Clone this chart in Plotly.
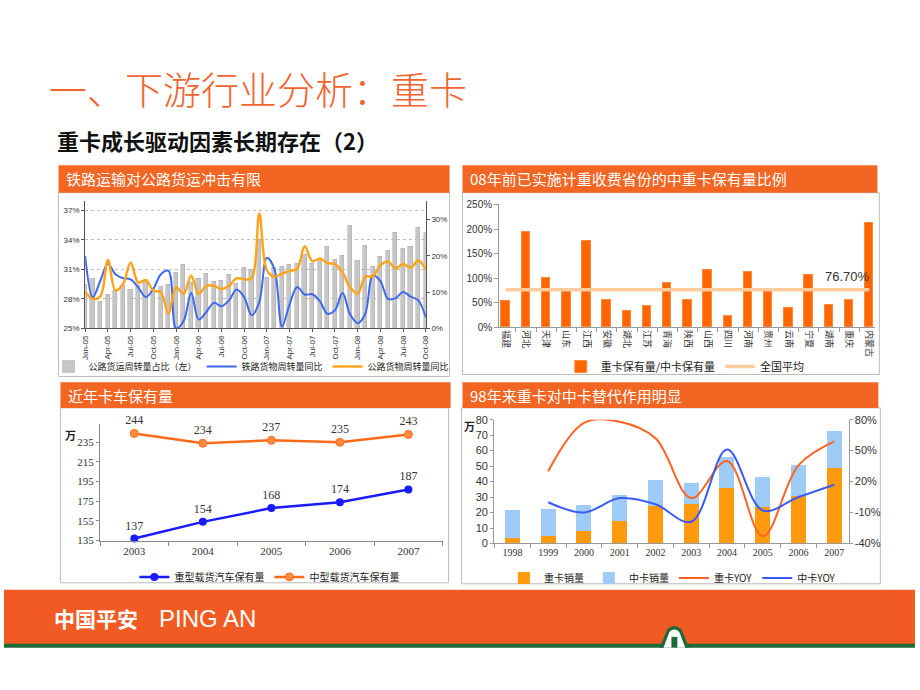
import plotly.graph_objects as go

W, H = 920, 690
def px(x): return x / W
def py(y): return 1 - y / H
def pp(x, y): return f"{x / W:.5f},{1 - y / H:.5f}"

CJK = "Noto Sans CJK SC"
SANS = "Arial, Liberation Sans, sans-serif"
SERIF = "Liberation Serif, DejaVu Serif, serif"

# ---------------- Chart 1 data ----------------
month_ticks = ["Jan-05", "Apr-05", "Jul-05", "Oct-05", "Jan-06", "Apr-06", "Jul-06", "Oct-06",
               "Jan-07", "Apr-07", "Jul-07", "Oct-07", "Jan-08", "Apr-08", "Jul-08", "Oct-08"]
road_share = [29.5, 30.1, 27.7, 28.4, 28.8, 29.3, 28.9, 29.3, 29.8, 28.8, 29.2, 29.5, 30.7, 31.5, 29.7, 30.1,
              30.6, 29.8, 29.9, 30.5, 29.6, 31.2, 31.0, 34.0, 30.2, 31.2, 31.3, 31.5, 31.6, 32.5, 31.6, 31.9,
              33.3, 32.0, 32.4, 35.5, 31.9, 33.4, 31.3, 32.3, 32.9, 34.7, 33.1, 33.3, 35.3, 34.7]
rail_yoy = [19.9, 8.6, 13.1, 17.8, 14.9, 13.8, 13.5, 11.3, 8.6, 10.8, 14.9, 15.8, 0.0, 2.0, 9.7, 2.4,
            4.5, 7.0, 6.1, 7.7, 10.7, 8.6, 3.6, 7.2, 19.4, 16.3, 0.5, 6.6, 11.4, 9.3, 9.4, 7.5,
            4.0, 5.0, 9.7, 3.8, 1.4, 4.0, 14.5, 13.0, 8.1, 8.3, 10.0, 8.7, 7.7, 3.0]
road_yoy = [10.1, 8.1, 8.8, 18.8, 10.4, 12.2, 18.1, 12.6, 13.3, 10.4, 9.9, 4.1, 11.3, 9.5, 14.5, 9.5,
            11.7, 11.7, 10.8, 11.7, 13.8, 13.5, 13.8, 31.6, 16.0, 14.2, 15.1, 15.8, 16.4, 22.6, 18.5, 19.2,
            18.0, 17.7, 15.4, 11.3, 9.6, 14.2, 14.3, 17.4, 18.4, 16.5, 17.7, 16.7, 18.7, 16.2]
left_ticks1 = [25, 28, 31, 34, 37]
right_ticks1 = [0, 10, 20, 30]

# ---------------- Chart 2 data ----------------
provinces = ["福建", "河北", "天津", "山东", "江西", "安徽", "湖北", "江苏", "青海", "陕西",
             "山西", "四川", "河南", "贵州", "云南", "宁夏", "湖南", "重庆", "内蒙古"]
heavy_mid_ratio = [52, 194, 100, 76, 174, 54, 33, 42, 90, 54, 116, 23, 112, 75, 38, 105, 44, 55, 211]
national_avg = 76.7

# ---------------- Chart 3 data ----------------
years3 = ["2003", "2004", "2005", "2006", "2007"]
heavy_stock = [137, 154, 168, 174, 187]
medium_stock = [244, 234, 237, 235, 243]

# ---------------- Chart 4 data ----------------
years4 = ["1998", "1999", "2000", "2001", "2002", "2003", "2004", "2005", "2006", "2007"]
heavy_sales = [3.5, 5.0, 8.5, 15.0, 24.3, 25.8, 36.0, 23.7, 31.1, 49.1]
medium_sales = [18.4, 17.6, 16.5, 16.7, 17.0, 13.6, 20.1, 19.3, 19.7, 23.5]
heavy_yoy = [None, 30, 77, 78, 62, 4, 40, -33, 36, 59]
medium_yoy = [None, 0, -10, 4, -2, -19, 51, -8, 5, 17]
right_ticks4 = [-40, -10, 20, 50, 80]

fig = go.Figure()

# Chart 1
idx1 = list(range(len(road_share)))
fig.add_trace(go.Bar(x=idx1, y=road_share, xaxis="x", yaxis="y", width=0.55,
                     marker=dict(color="#C6C6C6", line=dict(color="#ABABAB", width=0.5)),
                     name="公路货运周转量占比（左）", legend="legend"))
fig.add_trace(go.Scatter(x=idx1, y=rail_yoy, xaxis="x", yaxis="y2", mode="lines",
                         line=dict(color="#3D68F2", width=2, shape="spline", smoothing=1),
                         name="铁路货物周转量同比", legend="legend"))
fig.add_trace(go.Scatter(x=idx1, y=road_yoy, xaxis="x", yaxis="y2", mode="lines",
                         line=dict(color="#FFA41C", width=2.5, shape="spline", smoothing=1),
                         name="公路货物周转量同比", legend="legend"))

# Chart 2
idx2 = list(range(len(provinces)))
fig.add_trace(go.Bar(x=idx2, y=heavy_mid_ratio, xaxis="x2", yaxis="y3", width=0.42,
                     marker=dict(color="#FF6600", line=dict(color="#FF8A3D", width=1)),
                     name="重卡保有量/中卡保有量", legend="legend2"))
fig.add_trace(go.Scatter(x=[idx2[0], idx2[-1]], y=[national_avg, national_avg], xaxis="x2", yaxis="y3",
                         mode="lines", line=dict(color="#FFCC9E", width=3.5),
                         name="全国平均", legend="legend2"))

# Chart 3
idx3 = list(range(len(years3)))
fig.add_trace(go.Scatter(x=idx3, y=heavy_stock, xaxis="x3", yaxis="y4", mode="lines+markers+text",
                         line=dict(color="#1A1AFF", width=2.5), marker=dict(size=8, color="#1A1AFF"),
                         text=[str(v) for v in heavy_stock], textposition="top center",
                         textfont=dict(family=SERIF, size=12, color="#333333"), cliponaxis=False,
                         name="重型载货汽车保有量", legend="legend3"))
fig.add_trace(go.Scatter(x=idx3, y=medium_stock, xaxis="x3", yaxis="y4", mode="lines+markers+text",
                         line=dict(color="#FF6A1A", width=2.5),
                         marker=dict(size=8, color="#FF8A40", line=dict(color="#FF6A1A", width=1)),
                         text=[str(v) for v in medium_stock], textposition="top center",
                         textfont=dict(family=SERIF, size=12, color="#333333"), cliponaxis=False,
                         name="中型载货汽车保有量", legend="legend3"))

# Chart 4
idx4 = list(range(len(years4)))
fig.add_trace(go.Bar(x=idx4, y=heavy_sales, xaxis="x4", yaxis="y5", width=0.42,
                     marker=dict(color="#FF9A0E", line=dict(width=0)),
                     name="重卡销量", legend="legend4"))
fig.add_trace(go.Bar(x=idx4, y=medium_sales, xaxis="x4", yaxis="y5", width=0.42,
                     marker=dict(color="#9FCBF7", line=dict(width=0)),
                     name="中卡销量", legend="legend4"))
fig.add_trace(go.Scatter(x=idx4, y=heavy_yoy, xaxis="x4", yaxis="y6", mode="lines",
                         line=dict(color="#FF6222", width=2, shape="spline", smoothing=1),
                         name="重卡YOY", legend="legend4"))
fig.add_trace(go.Scatter(x=idx4, y=medium_yoy, xaxis="x4", yaxis="y6", mode="lines",
                         line=dict(color="#3A5CF5", width=2, shape="spline", smoothing=1),
                         name="中卡YOY", legend="legend4"))

axis_common = dict(showgrid=False, zeroline=False, showline=True, linewidth=1)

def leg(x, y, size, xanchor="center"):
    return dict(x=px(x), y=py(y), xanchor=xanchor, yanchor="middle", orientation="h",
                traceorder="normal", font=dict(family=CJK, size=size, color="#222"),
                bgcolor="rgba(0,0,0,0)", itemwidth=30, tracegroupgap=0)

layout = dict(
    width=W, height=H, margin=dict(l=0, r=0, t=0, b=0),
    paper_bgcolor="white", plot_bgcolor="rgba(0,0,0,0)",
    barmode="stack", bargap=0,
    font=dict(family=CJK, color="#222222"),
    # chart 1
    xaxis=dict(axis_common, domain=[px(82), px(426)], anchor="y", range=[0, 45],
               tickvals=list(range(0, len(road_share), 3)), ticktext=month_ticks, tickangle=-90,
               tickfont=dict(family=SANS, size=8, color="#333"), linecolor="#555",
               ticks="outside", ticklen=3, tickcolor="#555"),
    yaxis=dict(axis_common, domain=[py(328), py(198)], anchor="x", range=[25, 38],
               tickvals=left_ticks1, ticktext=[f"{v}%" for v in left_ticks1],
               tickfont=dict(family=SANS, size=8, color="#333"), linecolor="#555",
               showgrid=True, gridcolor="#BDBDBD", griddash="dot", gridwidth=1,
               ticks="outside", ticklen=3, tickcolor="#555"),
    yaxis2=dict(axis_common, overlaying="y", side="right", anchor="x", range=[0, 35.2],
                tickvals=right_ticks1, ticktext=[f"{v}%" for v in right_ticks1],
                tickfont=dict(family=SANS, size=8, color="#333"), linecolor="#555",
                ticks="outside", ticklen=3, tickcolor="#555"),
    # chart 2
    xaxis2=dict(axis_common, domain=[px(500), px(880)], anchor="y3", range=[-0.33, 18.3],
                tickvals=idx2, ticktext=provinces, tickangle=90,
                tickfont=dict(family=CJK, size=9, color="#333"), linecolor="#999", ticks="",
                minor=dict(ticks="outside", tick0=0.5, dtick=1, ticklen=4, tickcolor="#999")),
    yaxis3=dict(axis_common, domain=[py(327), py(202)], anchor="x2", range=[0, 250], dtick=50,
                ticksuffix="%", tickfont=dict(family=SANS, size=10, color="#333"), linecolor="#999",
                ticks="outside", ticklen=4, tickcolor="#999"),
    # chart 3
    xaxis3=dict(axis_common, domain=[px(97), px(443)], anchor="y4", range=[-0.5, 4.5],
                tickvals=idx3, ticktext=years3, ticks="",
                tickfont=dict(family=SERIF, size=11, color="#333"), linecolor="#888",
                minor=dict(ticks="outside", tick0=-0.5, dtick=1, ticklen=4, tickcolor="#888")),
    yaxis4=dict(axis_common, domain=[py(544), py(425)], anchor="x3", range=[135, 254],
                tickvals=[135, 155, 175, 195, 215, 235],
                tickfont=dict(family=SERIF, size=11, color="#333"), linecolor="#888",
                ticks="outside", ticklen=3, tickcolor="#888"),
    # chart 4
    xaxis4=dict(axis_common, domain=[px(495), px(853)], anchor="y5", range=[-0.51, 9.4],
                tickvals=idx4, ticktext=years4, ticks="",
                tickfont=dict(family=SERIF, size=10, color="#333"), linecolor="#999",
                minor=dict(ticks="outside", tick0=-0.5, dtick=1, ticklen=4, tickcolor="#999")),
    yaxis5=dict(axis_common, domain=[py(547), py(421)], anchor="x4", range=[0, 80], dtick=10,
                tickfont=dict(family=SANS, size=11, color="#333"), linecolor="#999",
                ticks="outside", ticklen=3, tickcolor="#999"),
    yaxis6=dict(axis_common, overlaying="y5", side="right", anchor="x4", range=[-40, 80],
                tickvals=right_ticks4, ticktext=[f"{v}%" for v in right_ticks4],
                tickfont=dict(family=SANS, size=11, color="#333"), linecolor="#999",
                ticks="outside", ticklen=3, tickcolor="#999"),
    legend=leg(45, 367, 9, "left"),
    legend2=leg(688, 367, 11),
    legend3=leg(268, 581, 10),
    legend4=leg(675, 582, 10),
)

ORANGE = "#F26522"
shapes = []
# panel borders
for (x0, y0, x1, y1) in [(55, 190, 450, 377), (463, 190, 884, 375), (57, 409, 449, 587), (462, 409, 885, 588)]:
    shapes.append(dict(type="rect", xref="paper", yref="paper", x0=px(x0), x1=px(x1), y0=py(y1), y1=py(y0),
                       line=dict(color="#BBBBBB", width=1), fillcolor="rgba(0,0,0,0)", layer="below"))
# header bars
headers = [(55, 162, 450, 190, "铁路运输对公路货运冲击有限"),
           (463, 162, 882, 190, "08年前已实施计重收费省份的中重卡保有量比例"),
           (57, 383, 451, 409, "近年卡车保有量"),
           (463, 383, 883, 409, "98年来重卡对中卡替代作用明显")]
annotations = []
for (x0, y0, x1, y1, t) in headers:
    shapes.append(dict(type="rect", xref="paper", yref="paper", x0=px(x0), x1=px(x1), y0=py(y1), y1=py(y0),
                       line=dict(width=0), fillcolor=ORANGE))
    annotations.append(dict(text=t, x=px(x0 + 6), y=py((y0 + y1) / 2), xref="paper", yref="paper",
                            xanchor="left", yanchor="middle", showarrow=False,
                            font=dict(family=CJK, size=15, color="white")))
# footer
shapes.append(dict(type="rect", xref="paper", yref="paper", x0=0, x1=1, y0=py(650), y1=py(594),
                   line=dict(width=0), fillcolor="#F15A22"))
shapes.append(dict(type="rect", xref="paper", yref="paper", x0=0, x1=1, y0=py(653), y1=py(649),
                   line=dict(width=0), fillcolor="#1E6B3A"))
shapes.append(dict(type="path", xref="paper", yref="paper",
                   path=f"M {pp(662,653)} L {pp(670,634)} Q {pp(677,628)} {pp(684,634)} L {pp(692,653)} Z",
                   fillcolor="#1E6B3A", line=dict(width=0)))
shapes.append(dict(type="path", xref="paper", yref="paper",
                   path=f"M {pp(666,653)} L {pp(672,637)} Q {pp(677,632)} {pp(682,637)} L {pp(688,653)} Z",
                   fillcolor="white", line=dict(width=0)))
shapes.append(dict(type="rect", xref="paper", yref="paper", x0=px(674), x1=px(680), y0=py(653), y1=py(642),
                   line=dict(width=0), fillcolor="#1E6B3A"))

annotations += [
    dict(text="一、下游行业分析：重卡", x=px(43), y=py(83), xref="paper", yref="paper", xanchor="left",
         yanchor="middle", showarrow=False, font=dict(family=CJK, size=38, color="#F2642F", weight=300)),
    dict(text="<b>重卡成长驱动因素长期存在（2）</b>", x=px(52), y=py(136), xref="paper", yref="paper",
         xanchor="left", yanchor="middle", showarrow=False, font=dict(family=CJK, size=22, color="#111")),
    dict(text="<b>中国平安</b>", x=px(48), y=py(623), xref="paper", yref="paper", xanchor="left",
         yanchor="middle", showarrow=False, font=dict(family=CJK, size=21, color="white")),
    dict(text="PING AN", x=px(155), y=py(623), xref="paper", yref="paper", xanchor="left",
         yanchor="middle", showarrow=False, font=dict(family=SANS, size=24, color="white")),
    dict(text=f"{national_avg:.2f}%", x=16.9, y=104, xref="x2", yref="y3", showarrow=False,
         font=dict(family=SANS, size=13, color="#333")),
    dict(text="<b>万</b>", x=px(60), y=py(437), xref="paper", yref="paper", showarrow=False,
         font=dict(family=CJK, size=11, color="#222")),
    dict(text="<b>万</b>", x=px(470), y=py(427), xref="paper", yref="paper", showarrow=False,
         font=dict(family=CJK, size=11, color="#222")),
]

layout["shapes"] = shapes
layout["annotations"] = annotations
fig.update_layout(**layout)
fig.write_html("out.html", config={"displayModeBar": False},
               post_script="document.body.style.margin='0px';document.body.style.padding='0px';")
